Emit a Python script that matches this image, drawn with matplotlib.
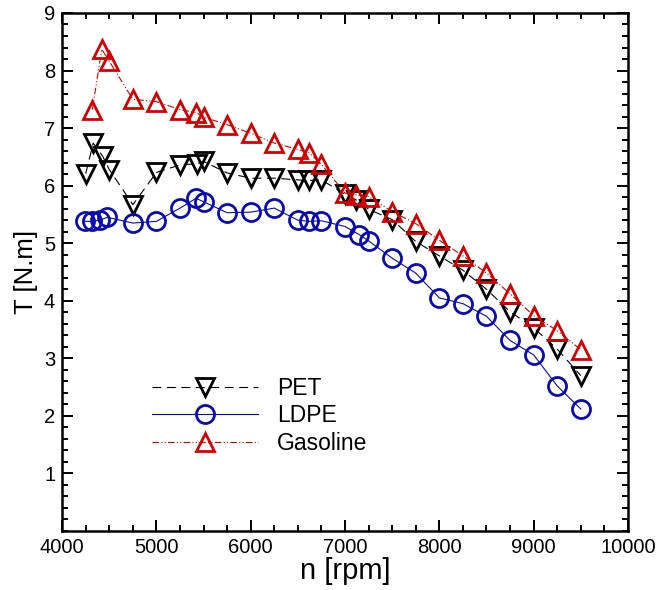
import numpy as np
import matplotlib.pyplot as plt
from matplotlib.ticker import MultipleLocator

plt.rcParams['font.family'] = ['Liberation Sans', 'DejaVu Sans']

# PET
n_pet = [4250, 4330, 4430, 4500, 4750, 5000, 5250, 5430, 5500, 5750, 6000, 6250,
         6500, 6620, 6750, 7000, 7120, 7250, 7500, 7750, 8000, 8250, 8500, 8750,
         9000, 9250, 9500]
t_pet = [6.21, 6.74, 6.51, 6.28, 5.67, 6.23, 6.36, 6.38, 6.42, 6.22, 6.13, 6.13,
         6.10, 6.09, 6.10, 5.85, 5.75, 5.59, 5.41, 5.03, 4.78, 4.53, 4.20, 3.81,
         3.53, 3.16, 2.70]

# LDPE
n_ldpe = [4240, 4320, 4400, 4480, 4750, 5000, 5250, 5420, 5500, 5750, 6000, 6250,
          6500, 6620, 6750, 7000, 7150, 7250, 7500, 7750, 8000, 8250, 8500, 8750,
          9000, 9250, 9500]
t_ldpe = [5.38, 5.38, 5.40, 5.45, 5.35, 5.38, 5.61, 5.78, 5.72, 5.53, 5.54, 5.61,
          5.40, 5.38, 5.39, 5.29, 5.15, 5.04, 4.74, 4.48, 4.05, 3.95, 3.73, 3.31,
          3.06, 2.52, 2.12]

# Gasoline
n_gas = [4320, 4420, 4500, 4750, 5000, 5250, 5420, 5500, 5750, 6000, 6250, 6500,
         6620, 6750, 7000, 7120, 7250, 7500, 7750, 8000, 8250, 8500, 8750, 9000,
         9250, 9500]
t_gas = [7.32, 8.37, 8.16, 7.50, 7.46, 7.32, 7.27, 7.19, 7.06, 6.91, 6.74, 6.63,
         6.57, 6.37, 5.87, 5.84, 5.81, 5.55, 5.34, 5.05, 4.78, 4.48, 4.12, 3.74,
         3.48, 3.15]

fig = plt.figure(figsize=(6.61, 5.90), dpi=100)
ax = fig.add_axes([0.094, 0.100, 0.856, 0.878])

ms = 13
mew = 2.0
ax.plot(n_pet, t_pet, color='black', lw=0.8, dashes=(8, 5), marker='v', ms=ms,
        mfc='none', mec='black', mew=mew, label='PET')
ax.plot(n_ldpe, t_ldpe, color='#0a0ab4', lw=0.8, ls='-', marker='o', ms=ms,
        mfc='none', mec='#0a0ab4', mew=mew, label='LDPE')
ax.plot(n_gas, t_gas, color='#d40000', lw=0.8, dashes=(6, 2, 1, 2, 1, 2), marker='^', ms=ms,
        mfc='none', mec='#d40000', mew=mew, label='Gasoline')

ax.set_xlim(4000, 10000)
ax.set_ylim(0, 9)
ax.xaxis.set_major_locator(MultipleLocator(1000))
ax.xaxis.set_minor_locator(MultipleLocator(250))
ax.yaxis.set_minor_locator(MultipleLocator(0.2))
ax.set_yticks([1, 2, 3, 4, 5, 6, 7, 8, 9])
ax.tick_params(which='both', direction='in', top=True, right=True, width=1.4)
ax.tick_params(which='major', length=8, labelsize=14.5, pad=5)
ax.tick_params(which='minor', length=4.5)
for s in ax.spines.values():
    s.set_linewidth(1.8)

ax.set_xlabel('n [rpm]', fontsize=21, labelpad=0)
ax.set_ylabel('T [N.m]', fontsize=18.5, labelpad=4)

ax.legend(loc='center left', bbox_to_anchor=(0.159, 0.222), frameon=False,
          fontsize=16.5, handlelength=4.6, handletextpad=0.85, labelspacing=0.2,
          borderpad=0, borderaxespad=0)

fig.savefig('out.png', dpi=100)
